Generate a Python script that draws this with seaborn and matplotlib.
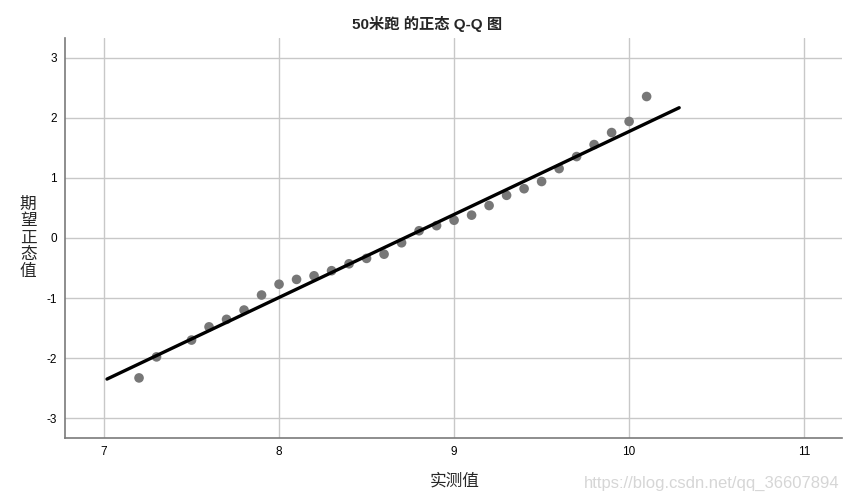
import numpy as np
import pandas as pd
import matplotlib
matplotlib.use("Agg")
import matplotlib.pyplot as plt
import seaborn as sns

# observed 50m sprint times and their expected normal values
observed = [7.2, 7.3, 7.5, 7.6, 7.7, 7.8, 7.9, 8.0, 8.1, 8.2, 8.3, 8.4, 8.5, 8.6, 8.7,
            8.8, 8.9, 9.0, 9.1, 9.2, 9.3, 9.4, 9.5, 9.6, 9.7, 9.8, 9.9, 10.0, 10.1]
expected = [-2.33, -1.98, -1.70, -1.48, -1.355, -1.20, -0.95, -0.77, -0.69, -0.63, -0.545,
            -0.43, -0.34, -0.27, -0.08, 0.12, 0.205, 0.295, 0.38, 0.54, 0.71, 0.82, 0.94,
            1.155, 1.355, 1.555, 1.755, 1.94, 2.355]

# reference line: (x - mean) / sd
line_mean = 8.717
line_sd = 0.7236
line_x = [7.017, 10.286]

x_ticks = [7, 8, 9, 10, 11]
y_ticks = [-3, -2, -1, 0, 1, 2, 3]

sns.set_style("whitegrid")
plt.rcParams['font.family'] = ['Liberation Sans', 'Noto Sans CJK SC', 'DejaVu Sans']
plt.rcParams['axes.unicode_minus'] = False

points = pd.DataFrame({"observed": observed, "expected": expected})
ref = pd.DataFrame({"x": line_x})
ref["y"] = (ref["x"] - line_mean) / line_sd

fig = plt.figure(figsize=(8.54, 5.04), dpi=100)
ax = fig.add_axes([0.0761, 0.131, 0.910, 0.7937])

sns.scatterplot(data=points, x="observed", y="expected", ax=ax, color="#777777",
                s=48, edgecolor="none", zorder=3)
sns.lineplot(data=ref, x="x", y="y", ax=ax, color="black", linewidth=2.4, zorder=4)

ax.set_xlim(6.777, 11.217)
ax.set_ylim(-3.33, 3.33)
ax.set_xticks(x_ticks)
ax.set_yticks(y_ticks)
ax.tick_params(labelsize=8.5, length=0, pad=6, colors="black")
ax.grid(True, color="#c8c8c8", linewidth=1)
for side in ["top", "right"]:
    ax.spines[side].set_visible(False)
for side in ["left", "bottom"]:
    ax.spines[side].set_color("#7a7a7a")
    ax.spines[side].set_linewidth(1.2)

ax.set_xlabel("")
ax.set_ylabel("")
cjk = ['Noto Sans CJK SC', 'DejaVu Sans']
fig.text(0.533, 0.045, "实测值", ha="center", va="center", fontsize=12, family=cjk)
fig.text(0.033, 0.528, "期\n望\n正\n态\n值", ha="center", va="center",
         fontsize=12, linespacing=1.0, family=cjk)
fig.text(0.5, 0.952, "50米跑 的正态 Q-Q 图", ha="center", va="center",
         fontsize=11, fontweight="bold")
fig.text(0.983, 0.04, "https://blog.csdn.net/qq_36607894", ha="right", va="center",
         fontsize=12, color="#d6d6d6")

fig.savefig("out.png", dpi=100)
